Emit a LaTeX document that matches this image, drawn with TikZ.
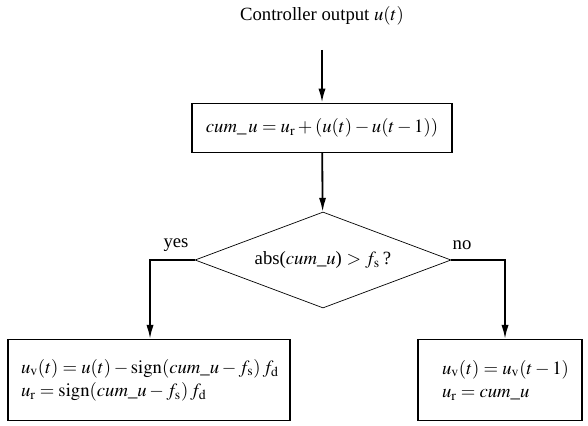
\documentclass[tikz,border=0pt]{standalone}
\usepackage{mathptmx}
\usepackage{fontspec}
\setmainfont{Liberation Serif}
\usetikzlibrary{shapes.geometric,arrows.meta}
\begin{document}
\begin{tikzpicture}[font=\fontsize{13.3}{16.5}\selectfont,
    block/.style={draw,line width=0.8pt,inner sep=0pt},
    decision/.style={draw,diamond,line width=0.5pt,aspect=2.67,inner sep=0pt},
    flow/.style={line width=1.3pt,-{Latex[length=3.5mm,width=1.8mm]}}]
        \useasboundingbox (0,0) rectangle (14.7,-10.625);
        % input and accumulation
        \node (input) at (8.05,-0.4) {Controller output $u(t)$};
        \coordinate (start) at (8.05,-1.25);
        \node[block,minimum width=6.5cm,minimum height=1.225cm] (cum) at (8.05,-3.19)
            {$\mathit{cum}\_\,u = u_{\mathrm{r}} + (u(t) - u(t-1))$};
        % test on the static friction
        \node[decision,minimum width=6.4cm,minimum height=2.4cm] (test) at (8.075,-6.5)
            {abs($\mathit{cum\_u}$) $> f_{\mathrm{s}}$\,?};
        % the two branches
        \node[block,minimum width=7.05cm,minimum height=2.025cm,align=left,text width=6.7cm] (slip) at (3.725,-9.5)
            {\hspace*{0.15cm}$u_{\mathrm{v}}(t) = u(t) - \mathrm{sign}(\mathit{cum\_u} - f_{\mathrm{s}})\,f_{\mathrm{d}}$\\
             \hspace*{0.15cm}$u_{\mathrm{r}} = \mathrm{sign}(\mathit{cum\_u} - f_{\mathrm{s}})\,f_{\mathrm{d}}$};
        \node[block,minimum width=4.1cm,minimum height=2.025cm,align=left,text width=3.6cm] (stick) at (12.5,-9.5)
            {\hspace*{0.35cm}$u_{\mathrm{v}}(t) = u_{\mathrm{v}}(t-1)$\\
             \hspace*{0.35cm}$u_{\mathrm{r}} = \mathit{cum\_u}$};
        \coordinate (yescorner) at (3.75,-6.5);
        \coordinate (nocorner) at (12.625,-6.5);
        \node (yes) at (4.4,-6.12) {yes};
        \node (no) at (11.55,-6.12) {no};
        % connectors
        \draw[flow] (start) -- (cum);
        \draw[flow] (cum) -- (test);
        \draw[flow] (test.west) -- (yescorner) -- (yescorner |- slip.north);
        \draw[flow] (test.east) -- (nocorner) -- (nocorner |- stick.north);
    \end{tikzpicture}
\end{document}
